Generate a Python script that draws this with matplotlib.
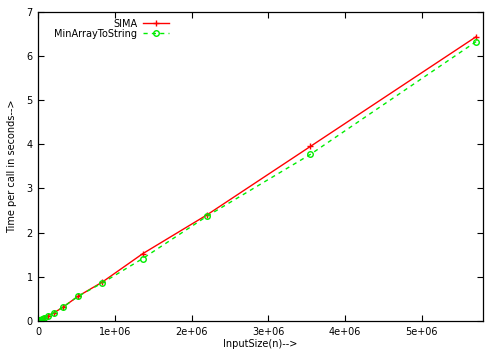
import matplotlib
matplotlib.use("Agg")
import matplotlib.pyplot as plt

# data
input_size = [5710000, 3550000, 2200000, 1360000, 835000, 520000, 320000, 200000,
              123000, 76000, 47000, 29000, 18000, 11000, 6800, 4200, 2600, 1600, 1000]
sima = [6.43, 3.95, 2.40, 1.52, 0.88, 0.56, 0.31, 0.18,
        0.12, 0.07, 0.045, 0.028, 0.017, 0.011, 0.007, 0.004, 0.003, 0.002, 0.001]
minarray = [6.32, 3.77, 2.37, 1.41, 0.86, 0.56, 0.31, 0.18,
            0.12, 0.07, 0.045, 0.028, 0.017, 0.011, 0.007, 0.004, 0.003, 0.002, 0.001]
x_ticks = [0, 1e6, 2e6, 3e6, 4e6, 5e6]
x_tick_labels = ["0", "1e+06", "2e+06", "3e+06", "4e+06", "5e+06"]
y_ticks = [0, 1, 2, 3, 4, 5, 6, 7]
y_tick_labels = ["0", "1", "2", "3", "4", "5", "6", "7"]

plt.rcParams['font.family'] = ['DejaVu Sans']
fig = plt.figure(figsize=(5, 3.5), dpi=100)
ax = fig.add_axes([0.0766, 0.083, 0.966 - 0.0766, 0.967 - 0.083])

ax.plot(input_size, sima, color='#ff0000', lw=1.0, marker='+', ms=5, mew=1.0,
        label='SIMA')
ax.plot(input_size, minarray, color='#00ee00', lw=1.0, ls=(0, (3, 3)), marker='o',
        ms=4, mfc='none', mew=1.0, label='MinArrayToString')

ax.set_xlim(0, 5.80e6)
ax.set_ylim(0, 7)
ax.set_xticks(x_ticks)
ax.set_xticklabels(x_tick_labels)
ax.set_yticks(y_ticks)
ax.set_yticklabels(y_tick_labels)
ax.tick_params(direction='in', top=True, right=True, labelsize=7, length=4,
               width=0.8, pad=4)
for s in ax.spines.values():
    s.set_linewidth(0.9)

ax.set_xlabel('InputSize(n)-->', fontsize=7, labelpad=2)
ax.set_ylabel('Time per call in seconds-->', fontsize=7, labelpad=7)

leg = ax.legend(loc='upper left', bbox_to_anchor=(0.02, 1.0), frameon=False,
                markerfirst=False, fontsize=7, handlelength=2.6,
                labelspacing=0.0, borderaxespad=0.35, handletextpad=0.6)

fig.savefig('out.png', dpi=100)
